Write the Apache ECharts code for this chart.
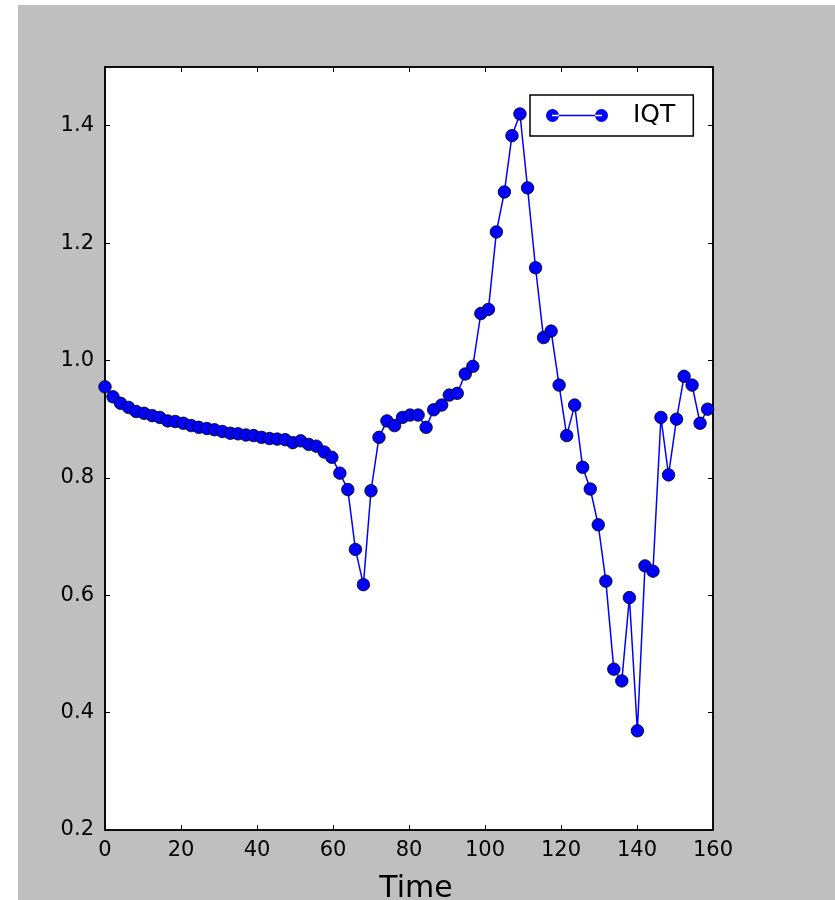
<!DOCTYPE html>
<html>
<head>
<meta charset="utf-8">
<script src="https://cdn.jsdelivr.net/npm/echarts@6/dist/echarts.min.js"></script>
<style>
  html, body { margin: 0; padding: 0; background: #ffffff; }
  #chart { position: absolute; left: 18px; top: 5px; width: 817px; height: 895px; }
</style>
</head>
<body>
<div id="chart"></div>
<script>
// Sample times (x) and IQT readings (y)
const timeValues = [
  0, 2.1, 4.1, 6.2, 8.2, 10.3, 12.4, 14.4, 16.5, 18.5,
  20.6, 22.7, 24.7, 26.8, 28.8, 30.9, 33.0, 35.0, 37.1, 39.1,
  41.2, 43.3, 45.3, 47.4, 49.4, 51.5, 53.6, 55.6, 57.7, 59.7,
  61.8, 63.9, 65.9, 68.0, 70.0, 72.1, 74.2, 76.2, 78.3, 80.3,
  82.4, 84.5, 86.5, 88.6, 90.6, 92.7, 94.8, 96.8, 98.9, 100.9,
  103.0, 105.1, 107.1, 109.2, 111.2, 113.3, 115.4, 117.4, 119.5, 121.5,
  123.6, 125.7, 127.7, 129.8, 131.8, 133.9, 136.0, 138.0, 140.1, 142.1,
  144.2, 146.3, 148.3, 150.4, 152.4, 154.5, 156.6, 158.6
];
const iqtValues = [
  0.955, 0.938, 0.927, 0.920, 0.913, 0.910, 0.906, 0.903, 0.897, 0.896,
  0.893, 0.889, 0.886, 0.884, 0.882, 0.879, 0.876, 0.875, 0.873, 0.872,
  0.869, 0.867, 0.866, 0.865, 0.860, 0.863, 0.857, 0.854, 0.844, 0.835,
  0.808, 0.780, 0.678, 0.618, 0.778, 0.869, 0.897, 0.889, 0.903, 0.907,
  0.907, 0.886, 0.916, 0.924, 0.941, 0.944, 0.977, 0.990, 1.080, 1.087,
  1.219, 1.287, 1.383, 1.420, 1.294, 1.158, 1.039, 1.050, 0.958, 0.872,
  0.924, 0.818, 0.781, 0.720, 0.624, 0.474, 0.454, 0.596, 0.369, 0.650,
  0.641, 0.903, 0.805, 0.900, 0.973, 0.958, 0.893, 0.917
];
const seriesName = 'IQT';
const xTicks = { min: 0, max: 160, interval: 20 };
const yTicks = { min: 0.2, max: 1.5, interval: 0.2 };

const font = 'DejaVu Sans';
const frame = { show: true, onZero: false, lineStyle: { color: '#000', width: 1.5 } };
const ticks = { show: true, inside: true, length: 5, lineStyle: { color: '#000', width: 1 } };

const chart = echarts.init(document.getElementById('chart'), null, { renderer: 'canvas' });
chart.setOption({
  animation: false,
  backgroundColor: '#bfbfbf',
  textStyle: { fontFamily: font },
  grid: {
    left: 87, right: 122, top: 62, bottom: 70,
    outerBoundsMode: 'none',
    containLabel: false,
    show: true, backgroundColor: '#ffffff', borderColor: '#000', borderWidth: 1.5
  },
  legend: {
    left: 512, top: 90,
    padding: [8, 18, 8, 16],
    backgroundColor: '#ffffff',
    borderColor: '#000', borderWidth: 1.5, borderRadius: 0,
    itemWidth: 62, itemHeight: 13,
    icon: 'path://M0,6.5a6.5,6.5 0 1,0 13,0a6.5,6.5 0 1,0 -13,0ZM49,6.5a6.5,6.5 0 1,0 13,0a6.5,6.5 0 1,0 -13,0ZM6,5.8L56,5.8L56,7.2L6,7.2Z',
    itemStyle: { borderWidth: 0 },
    textStyle: { fontSize: 25, color: '#000', fontFamily: font, padding: [0, 0, 0, 20] },
    data: [seriesName]
  },
  xAxis: [
    {
      type: 'value', position: 'bottom', min: xTicks.min, max: xTicks.max, interval: xTicks.interval,
      axisLine: frame, axisTick: ticks, splitLine: { show: false },
      axisLabel: { fontSize: 21, color: '#000', margin: 10, fontFamily: font },
      name: 'Time', nameLocation: 'middle', nameGap: 44,
      nameTextStyle: { fontSize: 30, color: '#000', fontFamily: font, padding: [0, 0, 0, 14] }
    },
    {
      type: 'value', position: 'top', min: xTicks.min, max: xTicks.max, interval: xTicks.interval,
      axisLine: frame, axisTick: ticks, splitLine: { show: false }, axisLabel: { show: false }
    }
  ],
  yAxis: [
    {
      type: 'value', position: 'left', min: yTicks.min, max: yTicks.max, interval: yTicks.interval,
      axisLine: frame, axisTick: ticks, splitLine: { show: false },
      axisLabel: {
        fontSize: 21, color: '#000', margin: 11, fontFamily: font, showMaxLabel: false,
        formatter: v => v.toFixed(1)
      }
    },
    {
      type: 'value', position: 'right', min: yTicks.min, max: yTicks.max, interval: yTicks.interval,
      axisLine: frame, axisTick: ticks, splitLine: { show: false }, axisLabel: { show: false }
    }
  ],
  series: [
    {
      name: seriesName,
      type: 'line',
      xAxisIndex: 0, yAxisIndex: 0,
      data: timeValues.map((t, i) => [t, iqtValues[i]]),
      symbol: 'circle', symbolSize: 12.5,
      lineStyle: { color: '#0000ff', width: 1.5 },
      itemStyle: { color: '#0000ff', borderColor: '#000', borderWidth: 0.8 },
      emphasis: { disabled: true },
      clip: true
    }
  ]
});
</script>
</body>
</html>
